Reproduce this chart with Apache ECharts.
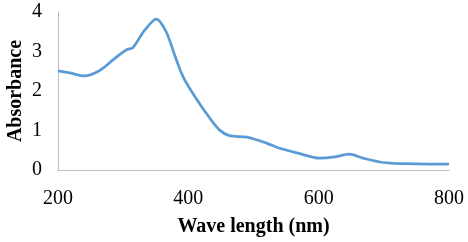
<!DOCTYPE html>
<html><head><meta charset="utf-8">
<script src="https://cdn.jsdelivr.net/npm/echarts@6/dist/echarts.min.js"></script>
<style>html,body{margin:0;padding:0;background:#fff}#c{width:468px;height:242px}</style>
</head><body><div id="c"></div>
<script>
var wavelengths = [200, 220, 241, 264, 284, 297, 306, 315, 333, 351, 366, 379, 392, 412, 433, 448, 463, 490, 520, 540, 570, 601, 625, 647, 668, 699, 730, 770, 800];
var absorbance = [2.51, 2.45, 2.38, 2.52, 2.78, 2.95, 3.05, 3.10, 3.54, 3.82, 3.50, 2.91, 2.36, 1.81, 1.31, 1.01, 0.87, 0.83, 0.68, 0.55, 0.42, 0.30, 0.33, 0.40, 0.30, 0.19, 0.16, 0.15, 0.15];
var xTicks = [200, 400, 600, 800];
var yTicks = [0, 1, 2, 3, 4];
var xTitle = 'Wave length (nm)';
var yTitle = 'Absorbance';

var font = '"Liberation Serif","Times New Roman",serif';
var chart = echarts.init(document.getElementById('c'), null, {renderer: 'canvas'});
chart.setOption({
  animation: false,
  grid: {left: 58, right: 19, top: 12, bottom: 72, containLabel: false, outerBoundsMode: 'none'},
  xAxis: {
    type: 'value', min: xTicks[0], max: xTicks[xTicks.length - 1], interval: 200,
    name: xTitle, nameLocation: 'middle', nameGap: 47, nameMoveOverlap: false,
    nameTextStyle: {fontFamily: font, fontWeight: 'bold', fontSize: 20, color: '#000'},
    axisLine: {show: true, lineStyle: {color: '#BFBFBF', width: 1}},
    axisTick: {show: false}, splitLine: {show: false},
    axisLabel: {fontFamily: font, fontSize: 20, color: '#000', margin: 19},
    axisPointer: {show: false}
  },
  yAxis: {
    type: 'value', min: yTicks[0], max: yTicks[yTicks.length - 1], interval: 1,
    name: yTitle, nameLocation: 'middle', nameGap: 32, nameMoveOverlap: false,
    nameTextStyle: {fontFamily: font, fontWeight: 'bold', fontSize: 20, color: '#000'},
    axisLine: {show: true, lineStyle: {color: '#BFBFBF', width: 1}},
    axisTick: {show: false}, splitLine: {show: false},
    axisLabel: {fontFamily: font, fontSize: 20, color: '#000', margin: 16}
  },
  series: [{
    type: 'line', smooth: 0.3, showSymbol: false,
    data: wavelengths.map(function (w, i) { return [w, absorbance[i]]; }),
    lineStyle: {color: '#5B9BD5', width: 2.75}
  }]
});
</script></body></html>
